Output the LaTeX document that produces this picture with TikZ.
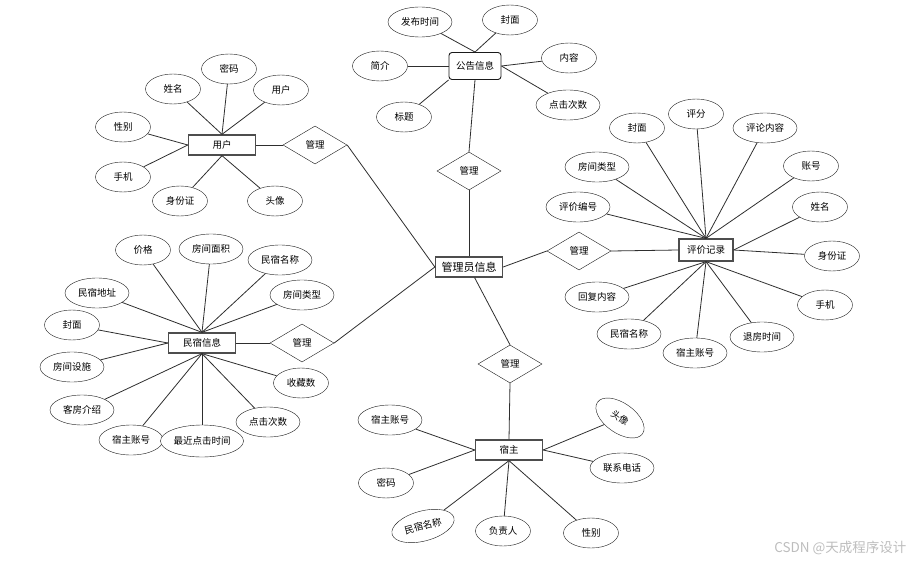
\documentclass[tikz,border=0pt]{standalone}
\usepackage{fontspec}
\newfontfamily\cjk{Noto Sans CJK SC}
\usetikzlibrary{shapes.geometric}
\definecolor{Ink}{HTML}{1A1A1A}
\definecolor{Edge}{HTML}{2E2E2E}
\definecolor{Frame}{HTML}{4D4D4D}
\definecolor{Mark}{HTML}{BDBDBD}
\newcommand{\erfont}{\cjk\fontsize{9.5}{10}\selectfont}
\tikzset{
  attr/.style={
    ellipse, draw=Ink, thin, fill=white, inner sep=0pt,
    minimum width=55pt, minimum height=30pt, font=\erfont
  },
  wide/.style={minimum width=64pt},
  entity/.style={
    rectangle, draw=Frame, line width=1.3pt, fill=white, inner sep=0pt,
    minimum width=67pt, minimum height=20pt, font=\erfont
  },
  notice/.style={
    rectangle, rounded corners=3pt, draw=Ink, line width=0.9pt, fill=white,
    minimum width=52pt, minimum height=27pt, inner sep=0pt, font=\erfont
  },
  rel/.style={
    diamond, draw=Ink, thin, fill=white, inner sep=0pt,
    minimum width=64pt, minimum height=38pt, font=\erfont
  },
  link/.style={draw=Edge, line width=0.8pt}
}

\begin{document}
\begin{tikzpicture}[x=1pt,y=-1pt]
  \useasboundingbox (0,0) rectangle (915,564);
  % 公告信息
  \node[notice] (gg) at (475,66) {公告信息};
  \node[attr,wide] (gg1) at (420,22) {发布时间};
  \node[attr] (gg2) at (510,20) {封面};
  \node[attr] (gg3) at (380,66) {简介};
  \node[attr] (gg4) at (569,58) {内容};
  \node[attr,wide] (gg5) at (568,105) {点击次数};
  \node[attr] (gg6) at (404,117) {标题};
  \node[rel] (r1) at (469,171) {管理};
  \node[entity,minimum width=67pt,font=\cjk\fontsize{11}{12}\selectfont] (admin) at (469,267) {管理员信息};
  \draw[link] (gg1)--(gg.north);
  \draw[link] (gg2)--(gg.north);
  \draw[link] (gg3)--(gg.west);
  \draw[link] (gg6)--(gg.south west);
  \draw[link] (gg4)--(gg.east);
  \draw[link] (gg5)--(gg.east);
  \draw[link] (gg.south)--(r1.north);
  \draw[link] (r1.south)--(admin.north);

  % 用户
  \node[entity] (yh) at (222,145) {用户};
  \node[rel] (r2) at (315,145) {管理};
  \node[attr] (yh1) at (123,127) {性别};
  \node[attr] (yh2) at (173,89) {姓名};
  \node[attr] (yh3) at (229,69) {密码};
  \node[attr] (yh4) at (281,90) {用户};
  \node[attr] (yh5) at (123,177) {手机};
  \node[attr] (yh6) at (180,201) {身份证};
  \node[attr] (yh7) at (275,201) {头像};
  \draw[link] (yh2)--(yh.north);
  \draw[link] (yh3)--(yh.north);
  \draw[link] (yh4)--(yh.north);
  \draw[link] (yh1)--(yh.west);
  \draw[link] (yh5)--(yh.west);
  \draw[link] (yh6)--(yh.south);
  \draw[link] (yh7)--(yh.south);
  \draw[link] (yh.east)--(r2.west);
  \draw[link] (r2.east)--(admin.west);

  % 评价记录
  \node[entity,minimum width=54pt,minimum height=22pt] (pj) at (706,250) {评价记录};
  \node[rel] (r3) at (579,251) {管理};
  \node[attr] (pj1) at (637,128) {封面};
  \node[attr] (pj2) at (696,114) {评分};
  \node[attr,wide] (pj3) at (765,128) {评论内容};
  \node[attr,wide] (pj4) at (597,167) {房间类型};
  \node[attr] (pj5) at (811,166) {账号};
  \node[attr,wide] (pj6) at (578,207) {评价编号};
  \node[attr] (pj7) at (820,207) {姓名};
  \node[attr] (pj8) at (832,256) {身份证};
  \node[attr,wide] (pj9) at (597,297) {回复内容};
  \node[attr] (pj10) at (825,305) {手机};
  \node[attr,wide] (pj11) at (629,334) {民宿名称};
  \node[attr,wide] (pj12) at (762,337) {退房时间};
  \node[attr,wide] (pj13) at (695,353) {宿主账号};
  \draw[link] (pj1)--(pj.north);
  \draw[link] (pj2)--(pj.north);
  \draw[link] (pj3)--(pj.north);
  \draw[link] (pj4)--(pj.north);
  \draw[link] (pj5)--(pj.north);
  \draw[link] (pj6)--(pj.north);
  \draw[link] (pj7)--(pj.east);
  \draw[link] (pj8)--(pj.east);
  \draw[link] (pj9)--(pj.south);
  \draw[link] (pj10)--(pj.south);
  \draw[link] (pj11)--(pj.south);
  \draw[link] (pj12)--(pj.south);
  \draw[link] (pj13)--(pj.south);
  \draw[link] (admin.east)--(r3.west);
  \draw[link] (r3.east)--(pj.west);

  % 民宿信息
  \node[entity] (ms) at (202,343) {民宿信息};
  \node[rel] (r4) at (302,343) {管理};
  \node[attr] (ms1) at (143,250) {价格};
  \node[attr,wide] (ms2) at (211,249) {房间面积};
  \node[attr,wide] (ms3) at (280,260) {民宿名称};
  \node[attr,wide] (ms4) at (302,295) {房间类型};
  \node[attr,wide] (ms5) at (97,293) {民宿地址};
  \node[attr] (ms6) at (72,325) {封面};
  \node[attr,wide] (ms7) at (72,367) {房间设施};
  \node[attr,wide] (ms8) at (82,410) {客房介绍};
  \node[attr,wide] (ms9) at (131,440) {宿主账号};
  \node[attr,minimum width=83pt,minimum height=32pt] (ms10) at (202,441) {最近点击时间};
  \node[attr,wide] (ms11) at (268,422) {点击次数};
  \node[attr] (ms12) at (301,383) {收藏数};
  \draw[link] (ms1)--(ms.north);
  \draw[link] (ms2)--(ms.north);
  \draw[link] (ms3)--(ms.north);
  \draw[link] (ms4)--(ms.north);
  \draw[link] (ms5)--(ms.north);
  \draw[link] (ms6)--(ms.west);
  \draw[link] (ms7)--(ms.west);
  \draw[link] (ms8)--(ms.south);
  \draw[link] (ms9)--(ms.south);
  \draw[link] (ms10)--(ms.south);
  \draw[link] (ms11)--(ms.south);
  \draw[link] (ms12)--(ms.south);
  \draw[link] (ms.east)--(r4.west);
  \draw[link] (r4.east)--(admin.west);

  % 宿主
  \node[entity] (sz) at (509,450) {宿主};
  \node[rel] (r5) at (510,364) {管理};
  \node[attr,wide] (sz1) at (390,420) {宿主账号};
  \node[attr] (sz2) at (386,483) {密码};
  \node[attr,wide,rotate=15] (sz3) at (423,526) {民宿名称};
  \node[attr] (sz4) at (503,531) {负责人};
  \node[attr] (sz5) at (591,533) {性别};
  \node[attr,wide] (sz6) at (622,468) {联系电话};
  \node[attr,rotate=-35] (sz7) at (620,418) {头像};
  \draw[link] (sz1)--(sz.west);
  \draw[link] (sz2)--(sz.west);
  \draw[link] (sz3)--(sz.south);
  \draw[link] (sz4)--(sz.south);
  \draw[link] (sz5)--(sz.south);
  \draw[link] (sz6)--(sz.east);
  \draw[link] (sz7)--(sz.east);
  \draw[link] (admin)--(r5.north);
  \draw[link] (r5.south)--(sz.north);

  \node[text=Mark,anchor=east,font=\cjk\fontsize{13.5}{15}\selectfont] (wm) at (910,548) {CSDN @天成程序设计};
\end{tikzpicture}
\end{document}
